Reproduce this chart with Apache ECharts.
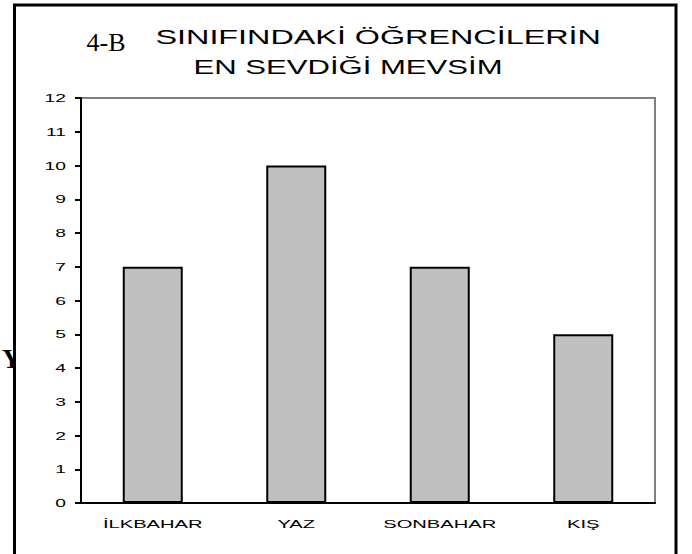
<!DOCTYPE html>
<html>
<head>
<meta charset="utf-8">
<script src="https://cdn.jsdelivr.net/npm/echarts@6/dist/echarts.min.js"></script>
<style>
  html, body { margin: 0; padding: 0; background: #fff; }
  #chart { width: 692px; height: 554px; }
</style>
</head>
<body>
<div id="chart"></div>
<script>
const categories = ['İLKBAHAR', 'YAZ', 'SONBAHAR', 'KIŞ'];
const studentCounts = [7, 10, 7, 5];
const titleLines = ['SINIFINDAKİ ÖĞRENCİLERİN', 'EN SEVDİĞİ MEVSİM'];
const classLabel = '4-B';

const chart = echarts.init(document.getElementById('chart'), null, { renderer: 'svg' });

const sans = 'Liberation Sans';
const serif = 'Liberation Serif';

chart.setOption({
  animation: false,
  backgroundColor: '#fff',
  grid: {
    left: 81,
    right: 37,
    top: 98,
    bottom: 51,
    show: true,
    borderColor: '#808080',
    borderWidth: 2
  },
  xAxis: {
    type: 'category',
    data: categories,
    axisLine: { lineStyle: { color: '#000', width: 2 } },
    axisTick: { length: 5, lineStyle: { color: '#000', width: 2 } },
    axisLabel: { color: '#000', fontSize: 11, fontFamily: sans, margin: 15 },
    splitLine: { show: false }
  },
  yAxis: {
    type: 'value',
    min: 0,
    max: 12,
    interval: 1,
    axisLine: { show: true, lineStyle: { color: '#000', width: 2 } },
    axisTick: { show: true, length: 6, lineStyle: { color: '#000', width: 2 } },
    axisLabel: { color: '#000', fontSize: 11, fontFamily: sans, margin: 15 },
    splitLine: { show: false }
  },
  series: [{
    type: 'bar',
    data: studentCounts,
    barWidth: 60,
    itemStyle: { color: '#c0c0c0', borderColor: '#000', borderWidth: 2 }
  }],
  graphic: [
    {
      type: 'text', x: 86.5, y: 42.5,
      style: { text: classLabel, fontSize: 26, fontFamily: serif, fill: '#000', verticalAlign: 'middle' }
    },
    {
      // title glyphs are stretched wide in the original
      type: 'text', x: 155.5, y: 36.5, scaleX: 1.54,
      style: { text: titleLines[0], fontSize: 21, fontFamily: sans, fill: '#000', verticalAlign: 'middle' }
    },
    {
      type: 'text', x: 193.5, y: 66.5, scaleX: 1.48,
      style: { text: titleLines[1], fontSize: 21, fontFamily: sans, fill: '#000', verticalAlign: 'middle' }
    },
    {
      // cut-off axis name on the left edge
      type: 'text', x: 2, y: 359, z: 1,
      style: { text: 'Y', fontSize: 27, fontFamily: serif, fontWeight: 'bold', fill: '#000', verticalAlign: 'middle' }
    },
    {
      type: 'rect', z: 2,
      shape: { x: 16, y: 340, width: 20, height: 40 },
      style: { fill: '#fff' }
    },
    {
      type: 'rect', z: 3,
      shape: { x: 14.5, y: 5, width: 661.5, height: 600 },
      style: { fill: 'none', stroke: '#000', lineWidth: 3 }
    }
  ]
});

// axis labels are also stretched horizontally in the original
function stretchAxisLabels() {
  document.querySelectorAll('#chart svg text').forEach(t => {
    if (t.dataset.stretched) return;
    const anchor = t.getAttribute('text-anchor');
    const factor = anchor === 'middle' ? 1.83 : anchor === 'end' ? 1.75 : 0;
    if (!factor) return;
    const len = t.getComputedTextLength();
    t.setAttribute('textLength', (len * factor).toFixed(1));
    t.setAttribute('lengthAdjust', 'spacingAndGlyphs');
    t.dataset.stretched = '1';
  });
}
stretchAxisLabels();
chart.on('finished', stretchAxisLabels);
</script>
</body>
</html>
